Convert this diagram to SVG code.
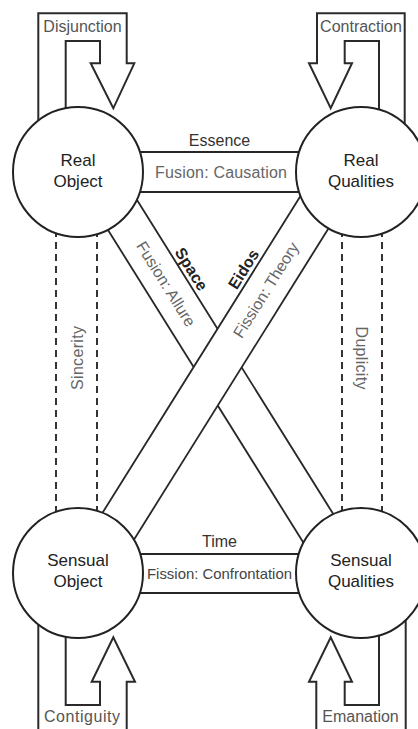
<svg xmlns="http://www.w3.org/2000/svg" width="418" height="729" viewBox="0 0 418 729">
<defs>
<style>
text{font-family:'Liberation Sans',Arial,Helvetica,sans-serif;}
.ln{stroke:#262626;stroke-width:1.8;fill:none;}
.loop{stroke:#2a2a2a;stroke-width:2;fill:none;stroke-linejoin:miter;}
.dash{stroke:#333;stroke-width:2;stroke-dasharray:7 5;fill:none;}
.node{fill:#fff;stroke:#222;stroke-width:2;}
.nl{font-size:17px;fill:#222;text-anchor:middle;}
.bl{font-size:16px;fill:#666;text-anchor:middle;}
.hl{font-size:16px;fill:#333;text-anchor:middle;}
.kl{font-size:16px;fill:#222;font-weight:bold;text-anchor:middle;}
.lp{font-size:16px;fill:#555;text-anchor:middle;}
</style>
</defs>
<rect width="418" height="729" fill="#fff"/>
<g id="connectors">
  <line class="dash" x1="56" y1="230" x2="56" y2="515"/>
  <line class="dash" x1="97" y1="230" x2="97" y2="515"/>
  <line class="dash" x1="342" y1="230" x2="342" y2="515"/>
  <line class="dash" x1="382" y1="230" x2="382" y2="515"/>
  <line class="ln" x1="100" y1="152" x2="330" y2="152"/>
  <line class="ln" x1="100" y1="192" x2="330" y2="192"/>
  <line class="ln" x1="100" y1="554" x2="330" y2="554"/>
  <line class="ln" x1="100" y1="593" x2="330" y2="593"/>
  <line class="ln" x1="71.75" y1="172" x2="322.4" y2="573"/>
  <line class="ln" x1="119.5" y1="172" x2="370.1" y2="573"/>
  <polygon points="315.5,172 363.75,172 113.1,573 64.9,573" fill="#fff" stroke="none"/>
  <line class="ln" x1="315.5" y1="172" x2="64.9" y2="573"/>
  <line class="ln" x1="363.75" y1="172" x2="113.1" y2="573"/>
  <path class="loop" d="M38.3,135 V13.3 H126.7 V63.3 H134.3 L113.3,108.3 L90.7,63.3 H100 V41 H65.7 V135"/>
  <path class="loop" d="M404.7,135 V13.3 H317 V63.3 H309 L330.7,108.3 L352,63.3 H344.7 V41 H379 V135"/>
  <path class="loop" d="M38.3,600 V735 M126.7,735 V681.7 H135 L113.3,637.3 L91.7,681.7 H100 V705 H65.7 V610"/>
  <path class="loop" d="M405.7,600 V735 M316.3,735 V681.7 H309 L330.7,637.3 L352,681.7 H344.7 V705 H379 V610"/>
  <text class="hl" x="219.5" y="146">Essence</text>
  <text class="bl" x="221" y="177.5" textLength="132" lengthAdjust="spacing">Fusion: Causation</text>
  <text class="hl" x="219.5" y="547">Time</text>
  <text class="bl" x="219.5" y="579" style="font-size:15px;fill:#444" textLength="145" lengthAdjust="spacingAndGlyphs">Fission: Confrontation</text>
  <text class="bl" transform="translate(166,284) rotate(58)" x="0" y="5.5">Fusion: Allure</text>
  <text class="bl" transform="translate(266,290) rotate(-58)" x="0" y="5.5">Fission: Theory</text>
  <text class="kl" transform="translate(183.3,274.1) rotate(58)" x="0" y="-4">Space</text>
  <text class="kl" transform="translate(251.6,274.2) rotate(-58)" x="0" y="-4">Eidos</text>
  <text class="bl" transform="translate(77,358) rotate(-90)" x="0" y="5.5" textLength="64" lengthAdjust="spacing">Sincerity</text>
  <text class="bl" transform="translate(361,358) rotate(90)" x="0" y="5.5" textLength="63" lengthAdjust="spacing">Duplicity</text>
  <text class="lp" x="82.5" y="32">Disjunction</text>
  <text class="lp" x="361" y="32">Contraction</text>
  <text class="lp" x="82" y="722" textLength="76" lengthAdjust="spacing">Contiguity</text>
  <text class="lp" x="360.5" y="722">Emanation</text>
</g>
<g id="real-object">
  <circle class="node" cx="78" cy="172" r="65"/>
  <text class="nl" x="78" y="166">Real</text>
  <text class="nl" x="78" y="187">Object</text>
</g>
<g id="real-qualities">
  <circle class="node" cx="361" cy="172" r="65"/>
  <text class="nl" x="361" y="166">Real</text>
  <text class="nl" x="361" y="187">Qualities</text>
</g>
<g id="sensual-object">
  <circle class="node" cx="78" cy="573" r="65"/>
  <text class="nl" x="78" y="566">Sensual</text>
  <text class="nl" x="78" y="587">Object</text>
</g>
<g id="sensual-qualities">
  <circle class="node" cx="361" cy="573" r="65"/>
  <text class="nl" x="361" y="566">Sensual</text>
  <text class="nl" x="361" y="587">Qualities</text>
</g>
</svg>
